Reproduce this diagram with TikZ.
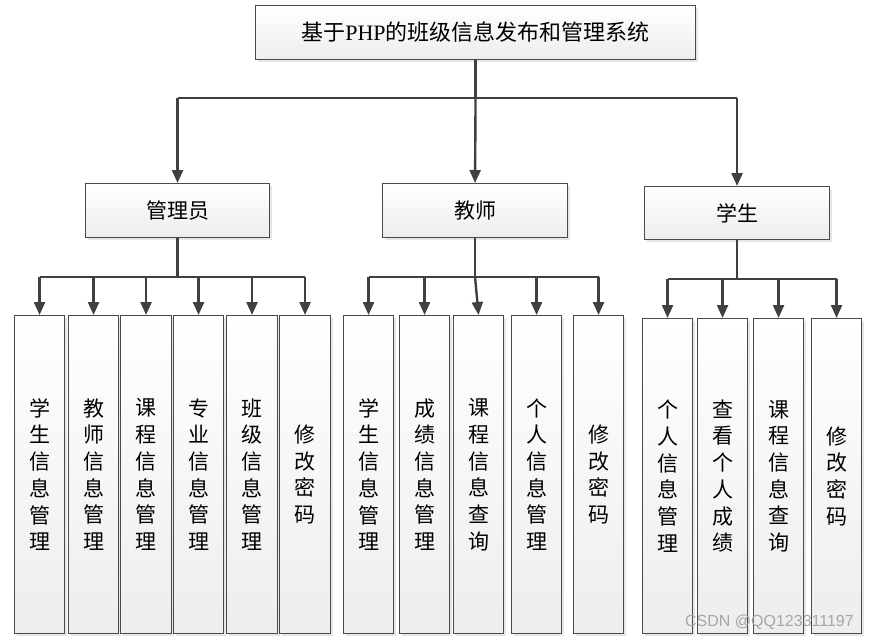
\documentclass[tikz,border=0pt]{standalone}
\usepackage{fontspec}
\newfontfamily\cjk{Noto Sans CJK SC}
\newfontfamily\lat{Liberation Serif}
\newfontfamily\wm{Liberation Sans}
\usetikzlibrary{arrows.meta,shadows,calc}
\definecolor{linec}{HTML}{404040}
\definecolor{boxline}{HTML}{4A4A4A}
\tikzset{
  box/.style={draw=boxline, line width=1.1pt, top color=white, bottom color=black!7,
    drop shadow={shadow xshift=2pt, shadow yshift=-2pt, fill=black!12, opacity=0.8},
    inner sep=0pt, anchor=north west, align=center},
  conn/.style={draw=linec, line width=2.4pt},
  arr/.style={conn, -{Triangle[length=13pt,width=11pt]}, shorten >=0pt},
  leaftext/.style={font=\cjk\fontsize{21}{26.7}\selectfont},
}
\begin{document}
\begin{tikzpicture}[x=1pt,y=-1pt]
\useasboundingbox (0,0) rectangle (870,641);
% top
\node[box, minimum width=440pt, minimum height=54pt, font=\fontsize{22}{24}\selectfont] (top) at (255,5)
  {{\cjk 基于}{\lat PHP}{\cjk 的班级信息发布和管理系统}};
% level 2
\node[box, minimum width=184pt, minimum height=54pt, font=\cjk\fontsize{21}{24}\selectfont] (adm) at (85,183) {管理员};
\node[box, minimum width=185pt, minimum height=54pt, font=\cjk\fontsize{21}{24}\selectfont] (tea) at (382,183) {教师};
\node[box, minimum width=185pt, minimum height=53pt, font=\cjk\fontsize{21}{24}\selectfont] (stu) at (644,186) {学生};
% admin leaves
\node[box, leaftext, minimum width=50pt, minimum height=318pt] (a1) at (14,315) {学\\生\\信\\息\\管\\理};
\node[box, leaftext, minimum width=50pt, minimum height=318pt] (a2) at (68,315) {教\\师\\信\\息\\管\\理};
\node[box, leaftext, minimum width=51pt, minimum height=318pt] (a3) at (120,315) {课\\程\\信\\息\\管\\理};
\node[box, leaftext, minimum width=50pt, minimum height=318pt] (a4) at (173,315) {专\\业\\信\\息\\管\\理};
\node[box, leaftext, minimum width=51pt, minimum height=318pt] (a5) at (226,315) {班\\级\\信\\息\\管\\理};
\node[box, leaftext, minimum width=51pt, minimum height=318pt] (a6) at (279,315) {修\\改\\密\\码};
% teacher leaves
\node[box, leaftext, minimum width=50pt, minimum height=318pt] (t1) at (343,315) {学\\生\\信\\息\\管\\理};
\node[box, leaftext, minimum width=50pt, minimum height=318pt] (t2) at (399,315) {成\\绩\\信\\息\\管\\理};
\node[box, leaftext, minimum width=50pt, minimum height=318pt] (t3) at (453,315) {课\\程\\信\\息\\查\\询};
\node[box, leaftext, minimum width=50pt, minimum height=318pt] (t4) at (511,315) {个\\人\\信\\息\\管\\理};
\node[box, leaftext, minimum width=50pt, minimum height=318pt] (t5) at (573,315) {修\\改\\密\\码};
% student leaves
\node[box, leaftext, minimum width=50pt, minimum height=315pt] (s1) at (642,318) {个\\人\\信\\息\\管\\理};
\node[box, leaftext, minimum width=50pt, minimum height=315pt] (s2) at (697,318) {查\\看\\个\\人\\成\\绩};
\node[box, leaftext, minimum width=50pt, minimum height=315pt] (s3) at (753,318) {课\\程\\信\\息\\查\\询};
\node[box, leaftext, minimum width=50pt, minimum height=315pt] (s4) at (811,318) {修\\改\\密\\码};
% top connectors
\coordinate (tb) at ($(top.south)+(0,38)$);
\draw[conn] (top.south) -- (tb);
\draw[conn] (adm.north |- tb) -- (stu.north |- tb);
\draw[arr] (adm.north |- tb) -- (adm.north);
\draw[arr] (tb) -- (tea.north);
\draw[arr] (stu.north |- tb) -- (stu.north);
% admin
\coordinate (ab) at ($(adm.south)+(0,39)$);
\draw[conn] (adm.south) -- (ab);
\draw[conn] (a1.north |- ab) -- (a6.north |- ab);
\foreach \n in {a1,a2,a3,a4,a5,a6}{\draw[arr] (\n.north |- ab) -- (\n.north);}
% teacher
\coordinate (tbb) at ($(tea.south)+(0,39)$);
\draw[conn] (tea.south) -- (tbb);
\draw[conn] (t1.north |- tbb) -- (t5.north |- tbb);
\foreach \n in {t1,t2,t4,t5}{\draw[arr] (\n.north |- tbb) -- (\n.north);}
\draw[arr] (tbb) -- (t3.north);
% student
\coordinate (sb) at ($(stu.south)+(0,39)$);
\draw[conn] (stu.south) -- (sb);
\draw[conn] (s1.north |- sb) -- (s4.north |- sb);
\foreach \n in {s1,s2,s3,s4}{\draw[arr] (\n.north |- sb) -- (\n.north);}
% watermark
\node[font=\wm\fontsize{16}{18}\selectfont, text=black!35, anchor=east, inner sep=0pt] (wmk) at (854,622) {CSDN @QQ123311197};
\end{tikzpicture}
\end{document}
